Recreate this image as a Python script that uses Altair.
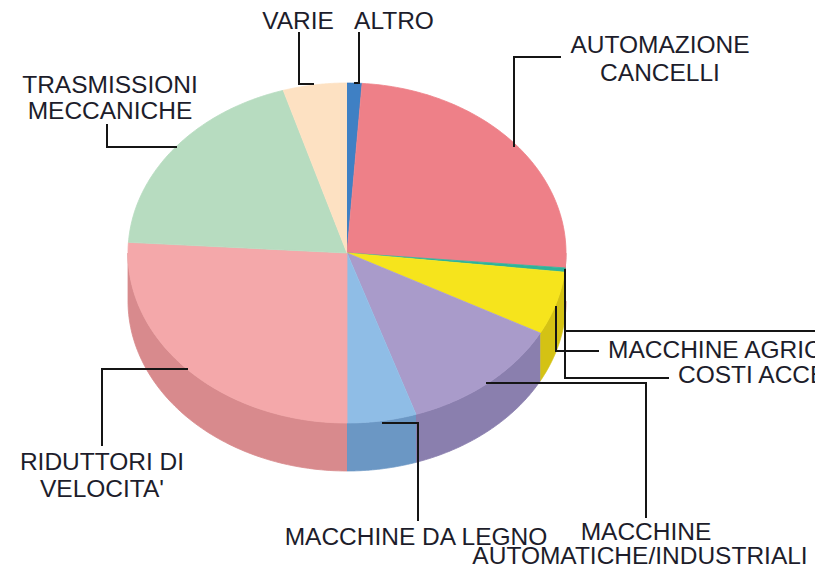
import altair as alt
import pandas as pd

# ---------------- data ----------------
categories = ["ALTRO", "AUTOMAZIONE CANCELLI", "COSTI ACCESSORI", "MACCHINE AGRICOLE",
              "MACCHINE AUTOMATICHE/INDUSTRIALI", "MACCHINE DA LEGNO",
              "RIDUTTORI DI VELOCITA'", "TRASMISSIONI MECCANICHE", "VARIE"]
values = [1.1, 25.3, 0.4, 6.0, 12.1, 5.1, 26.0, 19.3, 4.7]
top_colors = ["#3f80c4", "#ee8088", "#2fb39a", "#f6e41c", "#a99bca",
              "#8fbde6", "#f4a8aa", "#b7dcc0", "#fde1c2"]
side_colors = ["#2f63a0", "#c9646b", "#23907a", "#d4c214", "#8a7fae",
               "#6b97c4", "#d88a8d", "#93b99b", "#d9bfa0"]

label_lines = ["VARIE", "ALTRO", "AUTOMAZIONE", "CANCELLI", "TRASMISSIONI", "MECCANICHE",
               "RIDUTTORI DI", "VELOCITA'", "MACCHINE DA LEGNO", "MACCHINE",
               "AUTOMATICHE/INDUSTRIALI", "MACCHINE AGRICOLE", "COSTI ACCESSORI"]

# ---------------- layout (page pixels) ----------------
CX, CY, R = 347.0, 253.0, 219.0      # pie centre and horizontal radius
TILT = 170.0 / 219.0                 # vertical squash of the top face
DEPTH = 48.0 / 219.0                 # thickness of the pie
W, H = 807, 557


def dx(px):
    return (px - CX) / R


def dy(py):
    return (CY - py) / R


label_pos = [(298, 29, "center"), (394, 29, "center"), (660, 53, "center"), (660, 81, "center"),
             (110, 93, "center"), (110, 119, "center"), (102, 470, "center"), (102, 497, "center"),
             (416, 545, "center"), (646, 540, "center"), (640, 564, "center"),
             (608, 358, "left"), (678, 383, "left")]

leaders = [
    [(299, 33), (299, 84), (313, 84)],
    [(359, 33), (359, 83), (355, 83)],
    [(560, 57), (514, 57), (514, 146)],
    [(107, 125), (107, 147), (176, 147)],
    [(102, 445), (102, 369), (187, 369)],
    [(383, 423), (418, 423), (418, 520)],
    [(487, 383), (646, 383), (646, 517)],
    [(556, 307), (556, 351), (598, 351)],
    [(565, 270), (565, 378), (668, 378)],
    [(565, 331), (823, 331)],
]

# ---------------- slice tables ----------------
slices = pd.DataFrame({"name": categories, "value": values,
                       "topc": top_colors, "sidec": side_colors})
total = slices["value"].sum()
slices["e"] = slices["value"].cumsum() / total
slices["s"] = slices["e"] - slices["value"] / total

N = 80
top_rows, side_rows = [], []
for r in slices.to_dict("records"):
    nm, s0, e0 = r["name"], r["s"], r["e"]
    top_rows.append(dict(poly=nm, i=0, s=s0, e=e0, t=0.0, c=1, lev=0, col=r["topc"]))
    for k in range(N + 1):
        top_rows.append(dict(poly=nm, i=k + 1, s=s0, e=e0, t=k / N, c=0, lev=0, col=r["topc"]))
    s, e = max(s0, 0.25), min(e0, 0.75)
    if s < e:
        for k in range(N + 1):
            side_rows.append(dict(poly=nm, i=k, s=s, e=e, t=k / N, c=0, lev=0, col=r["sidec"]))
        for k in range(N + 1):
            side_rows.append(dict(poly=nm, i=N + 1 + k, s=s, e=e, t=1 - k / N, c=0, lev=1,
                                  col=r["sidec"]))

xs = alt.Scale(domain=[dx(8), dx(8 + W)], nice=False, zero=False)
ys = alt.Scale(domain=[dy(8 + H), dy(8)], nice=False, zero=False)


def pie_layer(rows):
    return alt.Chart(pd.DataFrame(rows)).transform_calculate(
        ang="2*PI*(datum.s + datum.t*(datum.e - datum.s))"
    ).transform_calculate(
        x="datum.c ? 0 : sin(datum.ang)",
        y=f"datum.c ? 0 : cos(datum.ang)*{TILT} - datum.lev*{DEPTH}",
    ).mark_line(filled=True, strokeWidth=0.8, strokeJoin="round").encode(
        x=alt.X("x:Q", scale=xs, axis=None),
        y=alt.Y("y:Q", scale=ys, axis=None),
        detail="poly:N",
        order=alt.Order("i:Q"),
        fill=alt.Fill("col:N", scale=None),
        stroke=alt.Stroke("col:N", scale=None),
    )


sides = pie_layer(side_rows)
tops = pie_layer(top_rows)

lead_rows = []
for j, pts in enumerate(leaders):
    for k, (px, py) in enumerate(pts):
        lead_rows.append(dict(lid=j, i=k, x=dx(px), y=dy(py)))
lead = alt.Chart(pd.DataFrame(lead_rows)).mark_line(
    color="#151515", strokeWidth=2, strokeJoin="miter", strokeCap="square"
).encode(
    x=alt.X("x:Q", scale=xs, axis=None),
    y=alt.Y("y:Q", scale=ys, axis=None),
    detail="lid:N",
    order=alt.Order("i:Q"),
)

txt_df = pd.DataFrame({
    "text": label_lines,
    "x": [dx(p[0]) for p in label_pos],
    "y": [dy(p[1]) for p in label_pos],
    "align": [p[2] for p in label_pos],
})


def text_layer(align):
    return alt.Chart(txt_df).transform_filter(f"datum.align == '{align}'").mark_text(
        font="Liberation Sans", fontSize=24.5, color="#1d1d2b", align=align,
        baseline="alphabetic"
    ).encode(
        x=alt.X("x:Q", scale=xs, axis=None),
        y=alt.Y("y:Q", scale=ys, axis=None),
        text="text:N",
    )


chart = alt.layer(sides, tops, lead, text_layer("center"), text_layer("left")).properties(
    width=W, height=H, padding=0, autosize=alt.AutoSizeParams(type="none"),
    background="white",
).configure_view(stroke=None)

chart.save("out.html", embed_options={"renderer": "svg", "actions": False})
